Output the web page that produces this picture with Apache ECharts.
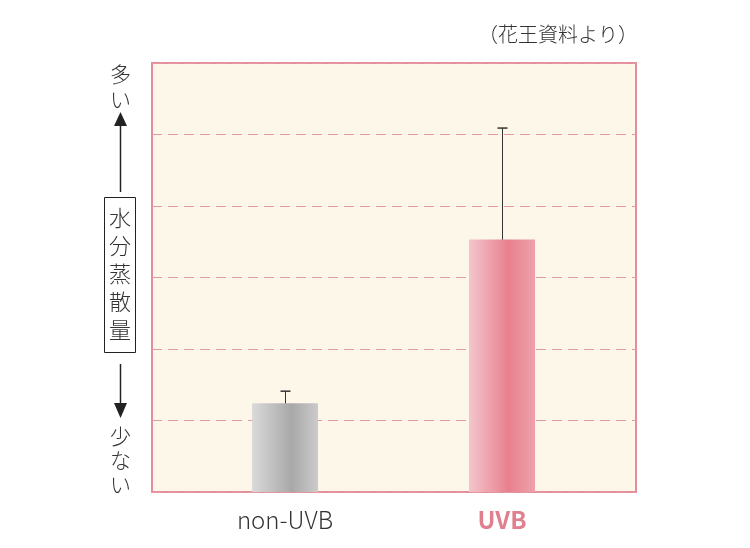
<!DOCTYPE html>
<html><head><meta charset="utf-8">
<script src="https://cdn.jsdelivr.net/npm/echarts@6/dist/echarts.min.js"></script>
<style>html,body{margin:0;padding:0;background:#fff}#c{width:750px;height:548px}</style>
</head><body><div id="c"></div>
<script>
const categories = ['non-UVB', 'UVB'];
const values = [1.24, 3.53];
const errorTops = [1.41, 5.09];
const yTicks = [0, 1, 2, 3, 4, 5, 6];
const source = '（花王資料より）';

const FONT = '"Noto Sans CJK JP", "Noto Sans", sans-serif';
const chart = echarts.init(document.getElementById('c'), null, {renderer: 'canvas'});

const grays = new echarts.graphic.LinearGradient(0, 0, 1, 0, [
  {offset: 0, color: '#dadada'}, {offset: 0.6, color: '#a8a8a8'}, {offset: 1, color: '#cbcbcb'}]);
const pinks = new echarts.graphic.LinearGradient(0, 0, 1, 0, [
  {offset: 0, color: '#f3c6cc'}, {offset: 0.6, color: '#e8808e'}, {offset: 1, color: '#eea2ab'}]);

chart.setOption({
  animation: false,
  grid: [
    {left: 152, right: 114, top: 63, bottom: 56, show: true, backgroundColor: '#fdf7ea',
     borderColor: '#e38e9a', borderWidth: 2},
    {left: 176.5, width: 434, top: 63, bottom: 56}
  ],
  xAxis: [
    {gridIndex: 0, type: 'category', data: categories, show: false},
    {gridIndex: 1, type: 'category', data: categories,
     axisLine: {show: false}, axisTick: {show: false},
     axisLabel: {margin: 16, fontSize: 24, fontFamily: FONT,
       color: '#333', fontWeight: 300,
       formatter: v => v === 'UVB' ? '{u|' + v + '}' : v,
       rich: {u: {color: '#e07f8e', fontWeight: 'bold', fontSize: 24, fontFamily: FONT}}}}
  ],
  yAxis: [
    {gridIndex: 0, type: 'value', min: yTicks[0], max: yTicks[yTicks.length - 1], interval: 1,
     axisLabel: {show: false}, axisLine: {show: false}, axisTick: {show: false},
     splitLine: {show: true, lineStyle: {color: '#e597a2', type: [10, 6], width: 1}}},
    {gridIndex: 1, type: 'value', min: yTicks[0], max: yTicks[yTicks.length - 1], interval: 1,
     show: false, splitLine: {show: false}}
  ],
  series: [
    {type: 'bar', xAxisIndex: 1, yAxisIndex: 1, barWidth: 66, z: 3,
     data: values.map((v, i) => ({value: v, itemStyle: {color: i === 0 ? grays : pinks}}))},
    {type: 'custom', xAxisIndex: 1, yAxisIndex: 1, z: 4,
     data: categories.map((c, i) => [i, values[i], errorTops[i]]),
     renderItem: function (params, api) {
       const base = api.coord([api.value(0), api.value(1)]);
       const top = api.coord([api.value(0), api.value(2)]);
       const x = Math.round(base[0]) + 0.5;
       return {type: 'group', children: [
         {type: 'line', shape: {x1: x, y1: base[1], x2: x, y2: top[1]}, style: {stroke: '#333', lineWidth: 1}},
         {type: 'line', shape: {x1: x - 5, y1: top[1], x2: x + 5, y2: top[1]}, style: {stroke: '#333', lineWidth: 1.5}}
       ]};
     }}
  ],
  graphic: [
    {type: 'text', right: 112, top: 24, style: {text: source, fontSize: 20, fontFamily: FONT, fill: '#333', fontWeight: 300}},
    {type: 'text', left: 110, top: 62, style: {text: '多\nい', fontSize: 21, lineHeight: 25, fontFamily: FONT, fill: '#333', fontWeight: 300, align: 'left'}},
    {type: 'line', shape: {x1: 120.5, y1: 192, x2: 120.5, y2: 122}, style: {stroke: '#222', lineWidth: 1.5}},
    {type: 'polygon', shape: {points: [[114, 126], [127, 126], [120.5, 112]]}, style: {fill: '#222'}},
    {type: 'rect', shape: {x: 104.5, y: 197.5, width: 31, height: 155}, style: {fill: '#fff', stroke: '#222', lineWidth: 1}},
    {type: 'text', left: 109, top: 204, style: {text: '水\n分\n蒸\n散\n量', fontSize: 22, lineHeight: 28, fontFamily: FONT, fill: '#333', fontWeight: 300}},
    {type: 'line', shape: {x1: 120.5, y1: 364, x2: 120.5, y2: 406}, style: {stroke: '#222', lineWidth: 1.5}},
    {type: 'polygon', shape: {points: [[114, 403], [127, 403], [120.5, 418]]}, style: {fill: '#222'}},
    {type: 'text', left: 110, top: 424, style: {text: '少\nな\nい', fontSize: 21, lineHeight: 24, fontFamily: FONT, fill: '#333', fontWeight: 300}}
  ]
});
</script></body></html>
